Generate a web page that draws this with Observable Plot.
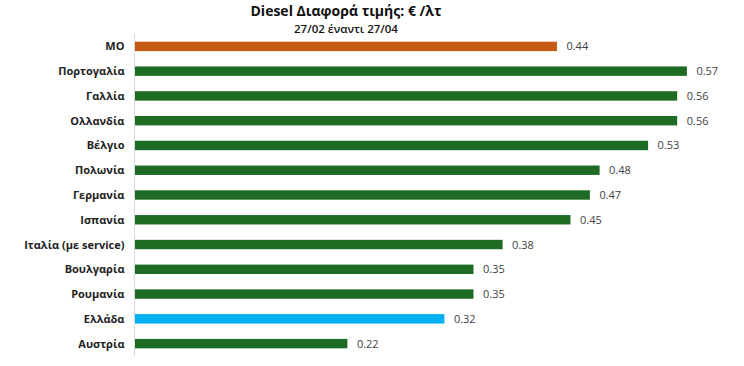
<!DOCTYPE html>
<html>
<head>
<meta charset="utf-8">
<script src="https://cdn.jsdelivr.net/npm/d3@7"></script>
<script src="https://cdn.jsdelivr.net/npm/@observablehq/plot@0.6"></script>
<style>
  html, body { margin: 0; padding: 0; background: #fff; }
  #wrap { width: 744px; height: 366px; position: relative; overflow: hidden; font-family: "Open Sans", "Noto Sans", sans-serif; }
  #title { position: absolute; left: 246px; width: 200px; text-align: center; top: 1px; font-size: 14px; font-weight: 700; color: #111; white-space: nowrap; display: flex; justify-content: center; }
  #subtitle { position: absolute; left: 246px; width: 200px; text-align: center; top: 21px; font-size: 11.5px; font-weight: 600; color: #111; white-space: nowrap; display: flex; justify-content: center; }
  #chart { position: absolute; left: 0; top: 34px; }
</style>
</head>
<body>
<div id="wrap">
  <div id="title">Diesel Διαφορά τιμής: € /λτ</div>
  <div id="subtitle">27/02 έναντι 27/04</div>
  <div id="chart"></div>
</div>
<script>
const countries = ["ΜΟ", "Πορτογαλία", "Γαλλία", "Ολλανδία", "Βέλγιο", "Πολωνία", "Γερμανία", "Ισπανία", "Ιταλία (με service)", "Βουλγαρία", "Ρουμανία", "Ελλάδα", "Αυστρία"];
const values = [0.436, 0.57, 0.56, 0.56, 0.53, 0.48, 0.47, 0.45, 0.38, 0.35, 0.35, 0.32, 0.22];
const groups = ["avg", "other", "other", "other", "other", "other", "other", "other", "other", "other", "other", "greece", "other"];

const data = countries.map((c, i) => ({country: c, value: values[i], group: groups[i]}));

const chart = Plot.plot({
  width: 744,
  height: 332,
  marginLeft: 134,
  marginRight: 28,
  marginTop: 0,
  marginBottom: 10,
  style: {fontFamily: "'Open Sans', 'Noto Sans', sans-serif", background: "#fff"},
  x: {domain: [0, 0.6], axis: null},
  y: {domain: countries, padding: 0.62, paddingOuter: 0.31, round: false, label: null, tickSize: 0, tickPadding: 10},
  color: {domain: ["avg", "other", "greece"], range: ["#C55A11", "#1E6B24", "#00B0F0"]},
  marks: [
    Plot.barX(data, {x: "value", y: "country", fill: "group"}),
    Plot.ruleX([0], {stroke: "#d9d9d9", strokeWidth: 1}),
    Plot.text(data, {x: "value", y: "country", text: d => d.value.toFixed(2), textAnchor: "start", dx: 9, fill: "#404040", fontSize: 11}),
    Plot.axisY({tickSize: 0, tickPadding: 10, fontSize: 11, fontWeight: 700, fill: "#222", label: null})
  ]
});
document.getElementById("chart").appendChild(chart);
</script>
</body>
</html>
